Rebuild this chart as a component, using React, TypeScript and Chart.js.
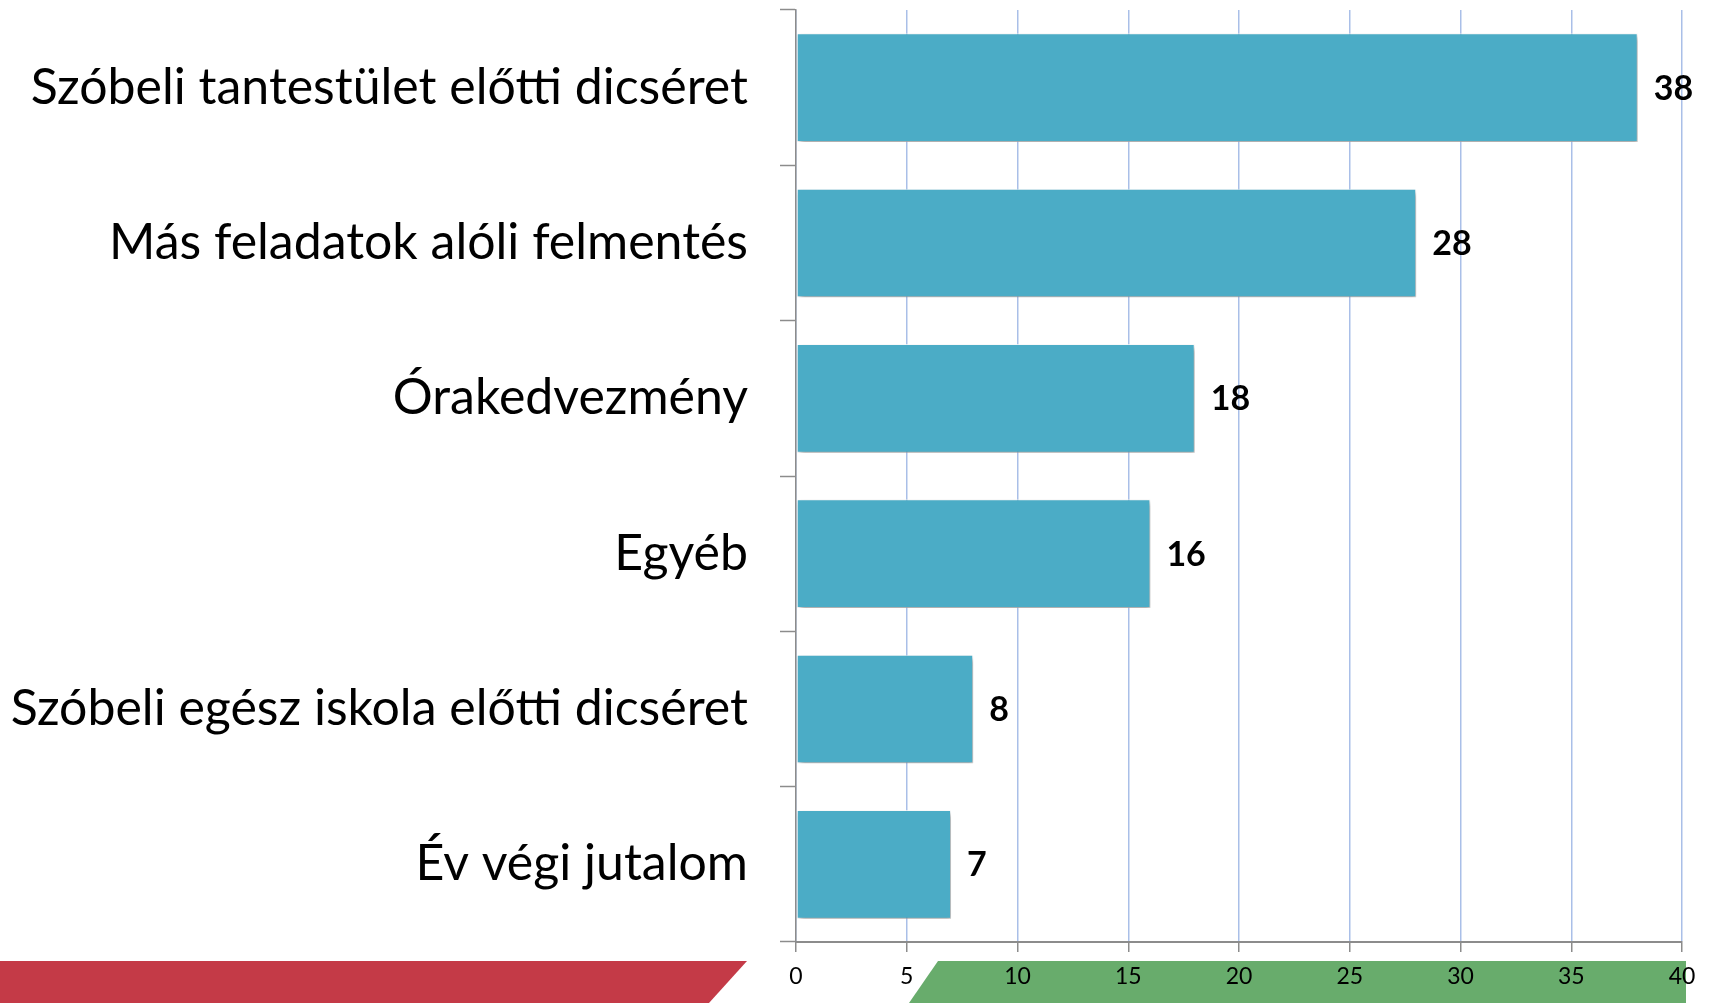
import React, { useEffect, useRef } from "react";
import { Chart, registerables } from "chart.js";

Chart.register(...registerables);

const categories = [
  "Szóbeli tantestület előtti dicséret",
  "Más feladatok alóli felmentés",
  "Órakedvezmény",
  "Egyéb",
  "Szóbeli egész iskola előtti dicséret",
  "Év végi jutalom",
];
const values = [38, 28, 18, 16, 8, 7];
const xMin = 0;
const xMax = 40;
const xStep = 5;

const bandsPlugin = {
  id: "bands",
  beforeDraw(chart: any) {
    const ctx = chart.ctx;
    ctx.save();
    ctx.fillStyle = "#C43A47";
    ctx.beginPath();
    ctx.moveTo(0, 961);
    ctx.lineTo(747, 961);
    ctx.lineTo(709, 1003);
    ctx.lineTo(0, 1003);
    ctx.closePath();
    ctx.fill();
    ctx.fillStyle = "#68AC6C";
    ctx.beginPath();
    ctx.moveTo(938, 961);
    ctx.lineTo(1686, 961);
    ctx.lineTo(1686, 1003);
    ctx.lineTo(909, 1003);
    ctx.closePath();
    ctx.fill();
    ctx.restore();
  },
};

const shadowPlugin = {
  id: "barShadow",
  beforeDatasetsDraw(chart: any) {
    const ctx = chart.ctx;
    ctx.save();
    ctx.shadowColor = "rgba(0,0,0,0.4)";
    ctx.shadowBlur = 5;
    ctx.shadowOffsetX = 2;
    ctx.shadowOffsetY = 3;
  },
  afterDatasetsDraw(chart: any) {
    chart.ctx.restore();
  },
};

const valueLabelPlugin = {
  id: "valueLabels",
  afterDatasetsDraw(chart: any) {
    const ctx = chart.ctx;
    const meta = chart.getDatasetMeta(0);
    ctx.save();
    ctx.font = "bold 34px Lato";
    ctx.fillStyle = "#000";
    ctx.textAlign = "left";
    ctx.textBaseline = "middle";
    meta.data.forEach((bar: any, i: number) => {
      ctx.fillText(String(values[i]), bar.x + 16, bar.y + 1);
    });
    ctx.restore();
  },
};

export default function App() {
  const ref = useRef<HTMLCanvasElement>(null);
  useEffect(() => {
    document.body.style.margin = "0";
    document.body.style.overflow = "hidden";
    const chart = new Chart(ref.current!, {
      type: "bar",
      data: {
        labels: categories,
        datasets: [
          {
            data: values,
            backgroundColor: "#4BACC6",
            borderColor: "rgba(255,255,255,0.75)",
            borderWidth: 1,
            borderSkipped: false,
            categoryPercentage: 1,
            barPercentage: 0.7,
          },
        ],
      },
      options: {
        indexAxis: "y",
        responsive: false,
        animation: false,
        layout: { padding: { top: 10, right: 29, left: 0, bottom: 0 } },
        plugins: { legend: { display: false }, tooltip: { enabled: false } },
        scales: {
          x: {
            min: xMin,
            max: xMax,
            ticks: {
              stepSize: xStep,
              color: "#000",
              font: { family: "Lato", size: 23 },
              padding: 11,
            },
            grid: {
              color: "#A9BFE8",
              lineWidth: 1.5,
              tickColor: "#8C8C8C",
              tickLength: 10,
              tickWidth: 1.5,
            },
            border: { color: "#8C8C8C", width: 2 },
            afterFit: (s: any) => {
              s.height = 61;
              s.paddingLeft = 0;
              s.paddingRight = 0;
            },
          },
          y: {
            ticks: {
              color: "#000",
              font: { family: "Lato", size: 50 },
              padding: 32,
            },
            grid: {
              drawOnChartArea: false,
              tickLength: 16,
              tickColor: "#8C8C8C",
              tickWidth: 1.5,
            },
            border: { color: "#8C8C8C", width: 1.5 },
            afterFit: (s: any) => {
              s.width = 796;
              s.paddingTop = 0;
              s.paddingBottom = 0;
            },
          },
        },
      },
      plugins: [bandsPlugin, shadowPlugin, valueLabelPlugin],
    } as any);
    return () => chart.destroy();
  }, []);
  return (
    <canvas
      ref={ref}
      width={1711}
      height={1003}
      style={{ display: "block", width: 1711, height: 1003 }}
    />
  );
}
